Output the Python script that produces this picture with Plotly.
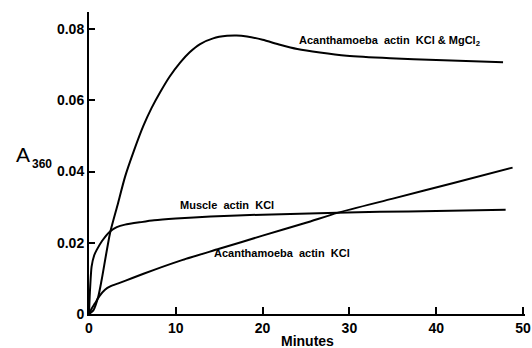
import plotly.graph_objects as go

# Absorbance at 360 nm versus time for three actin preparations
mg_minutes = [0, 0.5, 1.07, 1.46, 2.42, 3.3, 4.15, 5.2, 6.26, 7.2, 8.18, 9.3, 10.5, 11.6,
              12.8, 14.3, 15.9, 17.0, 18.2, 20.0, 22.0, 24.0, 26.6, 29.7, 34.7, 40.0, 47.7]
mg_a360 = [0, 0.0010, 0.0049, 0.0096, 0.0227, 0.0307, 0.0385, 0.0460, 0.0528, 0.0578,
           0.0622, 0.0667, 0.0706, 0.0735, 0.0758, 0.0774, 0.0781, 0.0782, 0.0779, 0.0770,
           0.0756, 0.0744, 0.0734, 0.0725, 0.0718, 0.0713, 0.0707]

muscle_minutes = [0, 0.1, 0.3, 0.6, 0.89, 1.5, 2.42, 3.2, 4.15, 6.0, 7.5, 10, 14, 20,
                  28.6, 33.5, 40, 48]
muscle_a360 = [0, 0.0060, 0.0133, 0.0165, 0.0180, 0.0205, 0.0232, 0.0244, 0.0251, 0.0258,
               0.0263, 0.0268, 0.0274, 0.0279, 0.0284, 0.0287, 0.0289, 0.0293]

kcl_minutes = [0, 0.3, 0.69, 1.2, 1.84, 2.5, 3.38, 5, 7.5, 10.8, 15, 20, 25, 28.6, 35, 42, 48.8]
kcl_a360 = [0, 0.0015, 0.0030, 0.0050, 0.0068, 0.0078, 0.0086, 0.0101, 0.0124, 0.0152,
            0.0183, 0.0220, 0.0256, 0.0284, 0.0324, 0.0368, 0.0411]

x_ticks = [0, 10, 20, 30, 40, 50]
y_ticks = [0, 0.02, 0.04, 0.06, 0.08]
y_tick_labels = ["0", "0.02", "0.04", "0.06", "0.08"]

FONT = "Liberation Sans, Arial, Helvetica, sans-serif"
line_style = dict(color="black", width=2, shape="spline", smoothing=0.6)

fig = go.Figure()
for xs, ys in [(mg_minutes, mg_a360), (muscle_minutes, muscle_a360), (kcl_minutes, kcl_a360)]:
    fig.add_trace(go.Scatter(x=xs, y=ys, mode="lines", line=line_style,
                             hoverinfo="skip", showlegend=False))

label_font = dict(family=FONT, size=11, color="black", weight="bold")
fig.add_annotation(x=24.0, y=0.0766, text="Acanthamoeba  actin  KCl & MgCl<sub>2</sub>",
                   xanchor="left", yanchor="middle", showarrow=False, font=label_font)
fig.add_annotation(x=10.25, y=0.0306, text="Muscle  actin  KCl",
                   xanchor="left", yanchor="middle", showarrow=False, font=label_font)
fig.add_annotation(x=14.2, y=0.0171, text="Acanthamoeba  actin  KCl",
                   xanchor="left", yanchor="middle", showarrow=False, font=label_font)

# y-axis title: A with subscript 360
fig.add_annotation(xref="paper", yref="paper", x=-0.1525, y=0.5265, text="A",
                   xanchor="center", yanchor="middle", showarrow=False,
                   font=dict(family=FONT, size=21, color="black"))
fig.add_annotation(xref="paper", yref="paper", x=-0.1067, y=0.497, text="360",
                   xanchor="center", yanchor="middle", showarrow=False,
                   font=dict(family=FONT, size=12, color="black", weight="bold"))

# x-axis title
fig.add_annotation(xref="paper", yref="paper", x=0.5, y=-0.089, text="Minutes",
                   xanchor="center", yanchor="middle", showarrow=False,
                   font=dict(family=FONT, size=14, color="black", weight="bold"))

tick_font = dict(family=FONT, size=14, color="black", weight="bold")
fig.update_layout(
    width=532, height=348,
    margin=dict(l=89, r=7, t=12, b=34),
    paper_bgcolor="white", plot_bgcolor="white",
    xaxis=dict(range=[0, 50.23], tickvals=x_ticks, ticks="inside", ticklen=7, tickwidth=1.5,
               tickcolor="black", showline=True, linecolor="black", linewidth=2,
               showgrid=False, zeroline=False, tickfont=tick_font, automargin=False),
    yaxis=dict(range=[0, 0.0848], tickvals=y_ticks, ticktext=y_tick_labels, ticks="inside",
               ticklen=6, tickwidth=1.5, tickcolor="black", showline=True, linecolor="black",
               linewidth=2, showgrid=False, zeroline=False, tickfont=tick_font,
               automargin=False),
)

fig.write_html("out.html")
